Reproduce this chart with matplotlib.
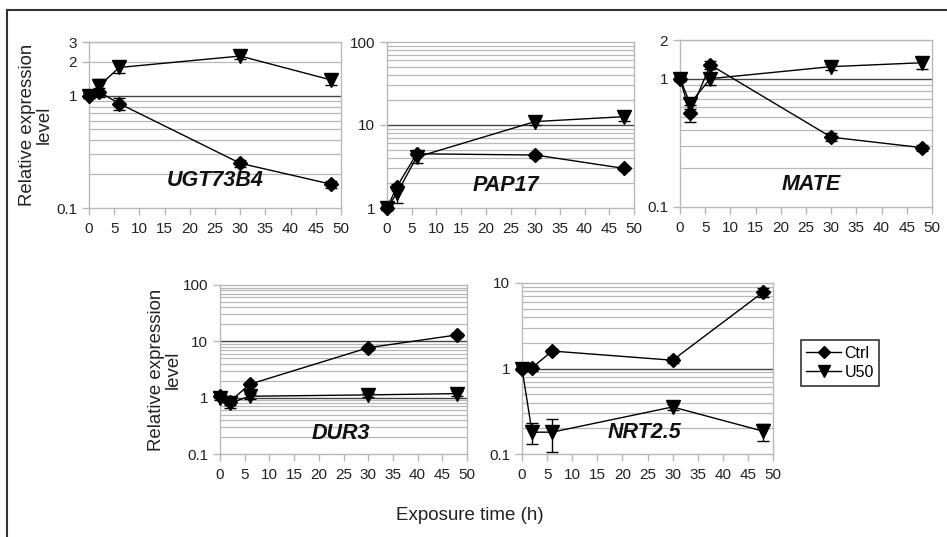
import matplotlib.pyplot as plt
import numpy as np
from matplotlib.lines import Line2D

plt.rcParams['font.family'] = ['Liberation Sans', 'DejaVu Sans']

# exposure time (h)
time = [0, 2, 6, 30, 48]

# relative expression, Ctrl and U50, with error bar half-widths
ugt_ctrl = [1.0, 1.08, 0.85, 0.25, 0.163]
ugt_ctrl_err = [0.05, 0.1, 0.11, 0.02, 0.012]
ugt_u50 = [1.0, 1.22, 1.78, 2.25, 1.38]
ugt_u50_err = [0.05, 0.2, 0.2, 0.15, 0.14]

pap_ctrl = [1.0, 1.8, 4.5, 4.35, 3.0]
pap_ctrl_err = [0.05, 0.15, 0.3, 0.3, 0.15]
pap_u50 = [1.0, 1.5, 4.1, 11.0, 12.6]
pap_u50_err = [0.05, 0.35, 0.65, 1.0, 1.4]

mate_ctrl = [1.0, 0.54, 1.28, 0.35, 0.29]
mate_ctrl_err = [0.05, 0.08, 0.1, 0.025, 0.015]
mate_u50 = [1.0, 0.64, 1.0, 1.24, 1.33]
mate_u50_err = [0.05, 0.06, 0.11, 0.07, 0.15]

dur_ctrl = [1.05, 0.85, 1.73, 7.7, 13.0]
dur_ctrl_err = [0.08, 0.1, 0.1, 0.6, 1.0]
dur_u50 = [1.0, 0.8, 1.06, 1.12, 1.18]
dur_u50_err = [0.1, 0.15, 0.12, 0.1, 0.12]

nrt_ctrl = [1.0, 1.02, 1.6, 1.25, 7.8]
nrt_ctrl_err = [0.06, 0.08, 0.1, 0.1, 1.0]
nrt_u50 = [1.0, 0.18, 0.18, 0.355, 0.185]
nrt_u50_err = [0.05, 0.05, 0.075, 0.03, 0.042]

genes = ['UGT73B4', 'PAP17', 'MATE', 'DUR3', 'NRT2.5']
ylims = [(0.1, 3), (1, 100), (0.1, 2), (0.1, 100), (0.1, 10)]
yticks = [[0.1, 1, 2, 3], [1, 10, 100], [0.1, 1, 2], [0.1, 1, 10, 100], [0.1, 1, 10]]
ctrl_sets = [ugt_ctrl, pap_ctrl, mate_ctrl, dur_ctrl, nrt_ctrl]
ctrl_errs = [ugt_ctrl_err, pap_ctrl_err, mate_ctrl_err, dur_ctrl_err, nrt_ctrl_err]
u50_sets = [ugt_u50, pap_u50, mate_u50, dur_u50, nrt_u50]
u50_errs = [ugt_u50_err, pap_u50_err, mate_u50_err, dur_u50_err, nrt_u50_err]

# axes boxes in pixels (left, right, top, bottom)
W, H = 947, 537
boxes = [(89, 341, 42, 208), (387, 634, 42, 208), (680, 932, 40, 207),
         (220, 467, 285, 454), (522, 773, 283, 454)]
title_pos = [(0.5, 0.1), (0.48, 0.075), (0.52, 0.07), (0.49, 0.06), (0.49, 0.065)]

fig = plt.figure(figsize=(W / 100, H / 100), dpi=100, facecolor='white')

grey = '#b8b8b8'
for i, g in enumerate(genes):
    l, r, t, b = boxes[i]
    ax = fig.add_axes([l / W, 1 - b / H, (r - l) / W, (b - t) / H])
    ax.set_yscale('log')
    lo, hi = ylims[i]
    ax.set_ylim(lo, hi)
    ax.set_xlim(0, 50)

    # gridlines: every 1..9 within each decade
    d = lo
    while d < hi:
        for k in range(1, 10):
            v = d * k
            if lo < v <= hi:
                if k == 1:
                    ax.axhline(v, color='#444444', lw=1.0, zorder=1)
                else:
                    ax.axhline(v, color=grey, lw=0.9, zorder=1)
        d *= 10

    for vals, errs, mk, ms in [(ctrl_sets[i], ctrl_errs[i], 'D', 7.5),
                               (u50_sets[i], u50_errs[i], 'v', 10.5)]:
        lines = ax.errorbar(time, vals, yerr=errs, color='black', lw=1,
                            marker=mk, ms=ms, capsize=4, elinewidth=1,
                            capthick=1, zorder=3)
        for art in lines.get_children():
            art.set_clip_on(False)

    ax.set_yticks(yticks[i])
    ax.set_yticklabels([f'{v:g}' for v in yticks[i]])
    ax.yaxis.set_minor_locator(plt.NullLocator())
    ax.set_xticks(np.arange(0, 51, 5))
    ax.tick_params(axis='both', colors=grey, labelcolor='#222222',
                   labelsize=11, length=5, width=1, direction='out')
    ax.tick_params(axis='x', pad=5)
    for s in ax.spines.values():
        s.set_color(grey)
        s.set_linewidth(1)

    ax.text(title_pos[i][0], title_pos[i][1], g, transform=ax.transAxes,
            ha='center', va='bottom', fontsize=15.5, fontweight='bold',
            fontstyle='italic', color='#111111', zorder=4)

    if i == 0:
        ax.set_ylabel('Relative expression\nlevel', fontsize=13.4,
                      color='#222222', linespacing=1.0)
        ax.yaxis.set_label_coords(-0.143, 0.5)
    if i == 3:
        ax.set_ylabel('Relative expression\nlevel', fontsize=13.4,
                      color='#222222', linespacing=1.0)
        ax.yaxis.set_label_coords(-0.154, 0.5)

handles = [Line2D([], [], color='black', lw=1, marker='D', ms=6),
           Line2D([], [], color='black', lw=1, marker='v', ms=8)]
leg = fig.legend(handles, ['Ctrl', 'U50'], loc='center',
                 bbox_to_anchor=(840 / W, 1 - 363 / H), fontsize=11.5,
                 frameon=True, fancybox=False, edgecolor='black',
                 handlelength=2.2, handletextpad=0.2, borderpad=0.35,
                 labelspacing=0.25)
leg.get_frame().set_linewidth(1.2)

fig.text(470 / W, 1 - 516 / H, 'Exposure time (h)', ha='center', va='center',
         fontsize=13.5, color='#222222')

# outer frame (top and left)
fig.add_artist(Line2D([7 / W, 1], [1 - 10 / H, 1 - 10 / H], color='#333333', lw=1.5))
fig.add_artist(Line2D([7 / W, 7 / W], [0, 1 - 10 / H], color='#333333', lw=1.5))

fig.savefig('out.png', dpi=100)
